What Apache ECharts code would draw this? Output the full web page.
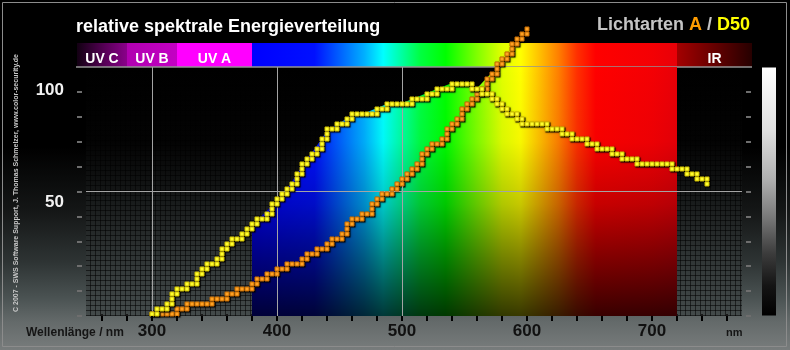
<!DOCTYPE html>
<html>
<head>
<meta charset="utf-8">
<script src="https://cdn.jsdelivr.net/npm/echarts@6/dist/echarts.min.js"></script>
<style>
  html, body { margin: 0; padding: 0; background: #000; }
  #chart { width: 790px; height: 350px; }
</style>
</head>
<body>
<div id="chart"></div>
<script>
// ---- data -------------------------------------------------------------
// Relative spectral power, illuminant D50 (wavelength in nm)
const nmD50 = [300, 310, 320, 330, 340, 350, 360, 370, 380, 390,
               400, 410, 420, 430, 440, 450, 460, 470, 480, 490,
               500, 510, 520, 530, 540, 550, 560, 570, 580, 590,
               600, 610, 620, 630, 640, 650, 660, 670, 680, 690,
               700, 710, 720, 730, 740, 745];
const valD50 = [0.9, 5.1, 10.3, 13.8, 19.2, 25.2, 30.6, 36.2, 39.5, 45.1,
                50.7, 57.4, 66.1, 73.7, 81.7, 85.3, 88.8, 89.7, 92.0, 94.2,
                94.2, 96.4, 98.7, 100.9, 103.1, 103.1, 100.8, 96.4, 92.0, 88.0,
                85.3, 85.3, 83.0, 80.8, 78.6, 76.3, 74.1, 71.9, 69.6, 67.4,
                67.4, 67.4, 65.2, 62.9, 60.7, 58.5];

// Relative spectral power, illuminant A (runs off the top of the plot)
const nmA = [300, 310, 320, 330, 340, 350, 360, 370, 380, 390,
             400, 410, 420, 430, 440, 450, 460, 470, 480, 490,
             500, 510, 520, 530, 540, 550, 560, 570, 580, 590, 600];
const valA = [0.4, 0.6, 2.5, 3.6, 4.8, 7.0, 9.2, 11.5, 13.7, 18.2,
              19.3, 22.6, 24.9, 29.5, 32.1, 35.7, 42.0, 45.5, 51.3, 55.6,
              61.2, 66.3, 74.3, 79.0, 84.6, 93.1, 98.0, 106.7, 114.7, 122.3, 127.2];

// axis ticks and labels
const xTickNm = [260, 280, 300, 320, 340, 360, 380, 400, 420, 440, 460, 480, 500,
                 520, 540, 560, 580, 600, 620, 640, 660, 680, 700, 720, 740, 760];
const xLabelNm = [300, 400, 500, 600, 700];
const yLabelVals = [50, 100];
const xGridNm = [300, 400, 500];

// spectral regions named in the colour band
const bandNames = ['UV C', 'UV B', 'UV A', 'IR'];
const bandFrom  = [240, 280, 320, 720];
const bandTo    = [280, 320, 380, 780];
const visibleFrom = 380, visibleTo = 720;

// ---- layout / style ---------------------------------------------------
const FONT = '"Liberation Sans", Arial, sans-serif';
const X_MIN = 247.2, X_MAX = 772;
const Y_MIN = -0.9, Y_MAX = 110.3;
const GRID = { left: 86, top: 67, width: 656, height: 249 };
const CELL = 5;

// visible spectrum colours (nm -> colour)
const spectrumStops = [
  [380, '#0000ff'], [430, '#0010ff'], [450, '#0060ff'], [470, '#00b0ff'],
  [485, '#00ffff'], [500, '#00ffa0'], [515, '#00ff40'], [535, '#00ff00'],
  [560, '#80ff00'], [580, '#e0ff00'], [595, '#ffff00'], [610, '#ffc000'],
  [625, '#ff8000'], [640, '#ff3000'], [655, '#ff0000'], [700, '#f40004'],
  [720, '#e80008']
];
const bandStops = [
  [240, '#120012'], [262, '#560056'], [280, '#8a008a'],
  [280, '#b000b0'], [320, '#c400c4'],
  [320, '#ff00ff'], [380, '#ff00ff']
].concat(spectrumStops).concat([[720, '#a40000'], [780, '#260000']]);

function stopsFor(list, from, to) {
  return list.map(s => ({ offset: Math.min(1, Math.max(0, (s[0] - from) / (to - from))), color: s[1] }));
}

// fine background grid texture of the plot panel
const tex = document.createElement('canvas');
tex.width = CELL; tex.height = CELL;
(function () {
  const c = tex.getContext('2d');
  c.fillStyle = 'rgba(0,0,0,0.55)';
  c.fillRect(0, 0, CELL, 1);
  c.fillRect(0, 0, 1, CELL);
})();

// cells of the 5 px raster that a curve passes through between two samples
function curveCells(nms, vals, i, api) {
  const o = api.coord([300, 0]);
  const cellOf = k => {
    const p = api.coord([nms[k], vals[k]]);
    return [Math.round((p[0] - o[0]) / CELL), Math.round((p[1] - o[1]) / CELL)];
  };
  const cur = cellOf(i);
  const cells = [];
  if (i === 0) {
    cells.push(cur);
  } else {
    const prev = cellOf(i - 1);
    const dx = cur[0] - prev[0], dy = cur[1] - prev[1];
    const n = Math.max(Math.abs(dx), Math.abs(dy));
    let px = prev[0], py = prev[1];
    for (let k = 1; k <= n; k++) {
      const x = Math.round(prev[0] + dx * k / n);
      const y = Math.round(prev[1] + dy * k / n);
      if (x !== px && y !== py) cells.push([x, py]);
      cells.push([x, y]);
      px = x; py = y;
    }
  }
  return cells.map(c => [o[0] + c[0] * CELL, o[1] + c[1] * CELL]);
}

// staircase of small squares (or their drop shadow)
function squaresRenderer(nms, vals, fill, edge, shadow) {
  return function (params, api) {
    const pts = curveCells(nms, vals, params.dataIndex, api);
    return {
      type: 'group',
      children: pts.map(p => shadow ? {
        type: 'rect',
        shape: { x: p[0] - 1.5, y: p[1] - 1.5, width: 5, height: 5 },
        style: { fill: 'rgba(0,0,0,0.75)', shadowColor: 'rgba(0,0,0,0.8)', shadowBlur: 2 }
      } : {
        type: 'rect',
        shape: { x: p[0] - 2, y: p[1] - 2, width: 4, height: 4 },
        style: { fill: fill, stroke: edge, lineWidth: 1 }
      })
    };
  };
}

// colour band above the plot with the UV / IR names
function renderBand(params, api) {
  const left = api.coord([bandFrom[0], Y_MAX]);
  const right = api.coord([bandTo[bandTo.length - 1], Y_MAX]);
  const bottom = left[1] - 0.5;
  const top = bottom - 23.5;
  const children = [{
    type: 'rect',
    shape: { x: left[0], y: top, width: right[0] - left[0], height: bottom - top },
    style: { fill: new echarts.graphic.LinearGradient(left[0], 0, right[0], 0,
      stopsFor(bandStops, bandFrom[0], bandTo[bandTo.length - 1]), true) }
  }, {
    type: 'line',
    shape: { x1: left[0] - 1, y1: bottom + 0.5, x2: right[0], y2: bottom + 0.5 },
    style: { stroke: '#dcdcdc', lineWidth: 1.2 }
  }];
  bandNames.forEach((name, k) => {
    const c = api.coord([(bandFrom[k] + bandTo[k]) / 2, Y_MAX]);
    children.push({
      type: 'text', x: c[0], y: (top + bottom) / 2 + 4,
      style: { text: name, fill: '#ffffff', font: 'bold 14px ' + FONT,
               textAlign: 'center', textVerticalAlign: 'middle' }
    });
  });
  return { type: 'group', children };
}

// spectrum colours filled under the higher of the two curves
function renderSpectrum(params, api) {
  const pts = [api.coord([visibleFrom, Y_MIN])];
  nmD50.forEach((nm, i) => {
    if (nm < visibleFrom || nm > visibleTo) return;
    const ai = nmA.indexOf(nm);
    let top = ai >= 0 ? Math.max(valD50[i], valA[ai]) : Y_MAX;
    top = Math.min(top, Y_MAX);
    pts.push(api.coord([nm, top]));
  });
  pts.push(api.coord([visibleTo, Y_MIN]));
  const x0 = api.coord([visibleFrom, 0])[0], x1 = api.coord([visibleTo, 0])[0];
  const yTop = api.coord([0, Y_MAX])[1], yBot = api.coord([0, Y_MIN])[1];
  return {
    type: 'group',
    children: [{
      type: 'polygon', shape: { points: pts },
      style: { fill: new echarts.graphic.LinearGradient(x0, 0, x1, 0,
        stopsFor(spectrumStops, visibleFrom, visibleTo), true) }
    }, {
      type: 'polygon', shape: { points: pts },
      style: { fill: new echarts.graphic.LinearGradient(0, yTop, 0, yBot, [
        { offset: 0, color: 'rgba(0,0,0,0)' },
        { offset: 0.3, color: 'rgba(0,0,0,0.03)' },
        { offset: 0.55, color: 'rgba(0,0,0,0.22)' },
        { offset: 0.75, color: 'rgba(0,0,0,0.47)' },
        { offset: 1, color: 'rgba(0,0,0,0.78)' }
      ], true) }
    }]
  };
}

const decoTick = (pos) => ({
  type: 'value', min: 0, max: 10, position: pos, offset: 4,
  axisLine: { show: false }, axisLabel: { show: false }, splitLine: { show: false },
  axisTick: { show: true, length: 5, customValues: [0, 1, 2, 3, 4, 5, 6, 7, 8, 9],
              lineStyle: { color: '#6e6e6e', width: 2 } }
});

const chart = echarts.init(document.getElementById('chart'), null, { renderer: 'canvas' });
chart.setOption({
  animation: false,
  backgroundColor: new echarts.graphic.LinearGradient(0, 0, 0, 1, [
    { offset: 0, color: '#000000' }, { offset: 0.42, color: '#000000' },
    { offset: 0.6, color: '#141616' }, { offset: 0.75, color: '#2e3434' },
    { offset: 0.85, color: '#4a5252' }, { offset: 0.92, color: '#646a6a' },
    { offset: 1, color: '#787c7c' }
  ]),
  textStyle: { fontFamily: FONT },
  grid: { left: GRID.left, top: GRID.top, width: GRID.width, height: GRID.height },
  xAxis: [{
    type: 'value', min: X_MIN, max: X_MAX, position: 'bottom',
    axisLine: { show: false }, splitLine: { show: false },
    axisTick: { show: true, length: 5, customValues: xTickNm, lineStyle: { color: '#1a1a1a', width: 2 } },
    axisLabel: { customValues: xLabelNm, fontSize: 17, fontWeight: 'bold', color: '#111111', margin: 7, fontFamily: FONT }
  }, {
    type: 'value', min: X_MIN, max: X_MAX, position: 'top', offset: 24, z: 10,
    axisLine: { show: false }, splitLine: { show: false }, axisLabel: { show: false },
    axisTick: { show: true, inside: true, length: 5, customValues: xTickNm, lineStyle: { color: '#000000', width: 2 } }
  }],
  yAxis: [{
    type: 'value', min: Y_MIN, max: Y_MAX,
    axisLine: { show: false }, axisTick: { show: false }, splitLine: { show: false },
    axisLabel: { customValues: yLabelVals, fontSize: 17, fontWeight: 'bold', color: '#f2f2f2', margin: 22, fontFamily: FONT }
  }, decoTick('left'), decoTick('right')],
  graphic: [
    { type: 'rect', silent: true, z: -1,
      shape: { x: 2.5, y: 2.5, width: 784, height: 344 },
      style: { fill: 'none', stroke: '#8c8c8c', lineWidth: 1 } },
    { type: 'rect', silent: true, z: -1,
      shape: { x: GRID.left, y: GRID.top, width: GRID.width, height: GRID.height },
      style: { fill: new echarts.graphic.LinearGradient(0, 0, 0, 1, [
        { offset: 0, color: '#000000' }, { offset: 0.3, color: '#030303' },
        { offset: 0.5, color: '#141616' }, { offset: 0.75, color: '#2e3333' },
        { offset: 1, color: '#444b4b' }]) } },
    { type: 'rect', silent: true, z: -1,
      shape: { x: GRID.left, y: GRID.top, width: GRID.width, height: GRID.height },
      style: { fill: { image: tex, repeat: 'repeat' } } },
    { type: 'rect', silent: true, z: -1,
      shape: { x: 762, y: 67.5, width: 14, height: 248 },
      style: { fill: new echarts.graphic.LinearGradient(0, 0, 0, 1, [
        { offset: 0, color: '#ffffff' }, { offset: 0.25, color: '#e0e0e0' },
        { offset: 0.45, color: '#b0b0b0' }, { offset: 0.6, color: '#7a7a7a' },
        { offset: 0.75, color: '#3c3c3c' }, { offset: 0.88, color: '#141414' },
        { offset: 1, color: '#000000' }]) } },
    { type: 'text', x: 76, y: 27, silent: true,
      style: { text: 'relative spektrale Energieverteilung', fill: '#ffffff',
               font: 'bold 18px ' + FONT, textAlign: 'left', textVerticalAlign: 'middle' } },
    { type: 'text', x: 750, y: 25, silent: true,
      style: { text: '{g|Lichtarten }{a|A}{g| / }{d|D50}', font: 'bold 18px ' + FONT,
               textAlign: 'right', textVerticalAlign: 'middle',
               rich: { g: { fill: '#c4c4c4', font: 'bold 18px ' + FONT },
                       a: { fill: '#ff9c00', font: 'bold 18px ' + FONT },
                       d: { fill: '#ffff00', font: 'bold 18px ' + FONT } } } },
    { type: 'text', x: 26, y: 333, silent: true,
      style: { text: 'Wellenlänge / nm', fill: '#151515', font: 'bold 12px ' + FONT,
               textAlign: 'left', textVerticalAlign: 'middle' } },
    { type: 'text', x: 726, y: 333, silent: true,
      style: { text: 'nm', fill: '#151515', font: 'bold 11px ' + FONT,
               textAlign: 'left', textVerticalAlign: 'middle' } },
    { type: 'text', x: 16.5, y: 312, rotation: Math.PI / 2, silent: true,
      style: { text: 'C 2007 - SWS Software Support, J. Thomas Schmelzer, www.color-security.de',
               fill: '#c8c8c8', font: 'bold 7px ' + FONT, textAlign: 'left', textVerticalAlign: 'middle' } }
  ],
  series: [{
    type: 'line', data: [], yAxisIndex: 1, silent: true, z: 2,
    markLine: {
      silent: true, symbol: 'none', label: { show: false },
      lineStyle: { color: '#a4a4a4', width: 1, type: 'solid' },
      data: xGridNm.map(v => ({ xAxis: v })).concat([{ yAxis: 5 }])
    }
  }, {
    type: 'custom', name: 'Band', silent: true, z: 2, clip: false,
    data: [[visibleFrom, 0]], renderItem: renderBand
  }, {
    type: 'custom', name: 'Spektrum', silent: true, z: 3, clip: false,
    data: [[visibleFrom, 0]], renderItem: renderSpectrum
  }, {
    type: 'custom', name: 'A shadow', silent: true, z: 4, clip: false,
    data: nmA.map((x, i) => [x, valA[i]]),
    renderItem: squaresRenderer(nmA, valA, null, null, true)
  }, {
    type: 'custom', name: 'A', silent: true, z: 5, clip: false,
    data: nmA.map((x, i) => [x, valA[i]]),
    renderItem: squaresRenderer(nmA, valA, '#ffa326', '#c46a00', false)
  }, {
    type: 'custom', name: 'D50 shadow', silent: true, z: 6, clip: false,
    data: nmD50.map((x, i) => [x, valD50[i]]),
    renderItem: squaresRenderer(nmD50, valD50, null, null, true)
  }, {
    type: 'custom', name: 'D50', silent: true, z: 7, clip: false,
    data: nmD50.map((x, i) => [x, valD50[i]]),
    renderItem: squaresRenderer(nmD50, valD50, '#ffff30', '#cdbb00', false)
  }]
});
</script>
</body>
</html>
